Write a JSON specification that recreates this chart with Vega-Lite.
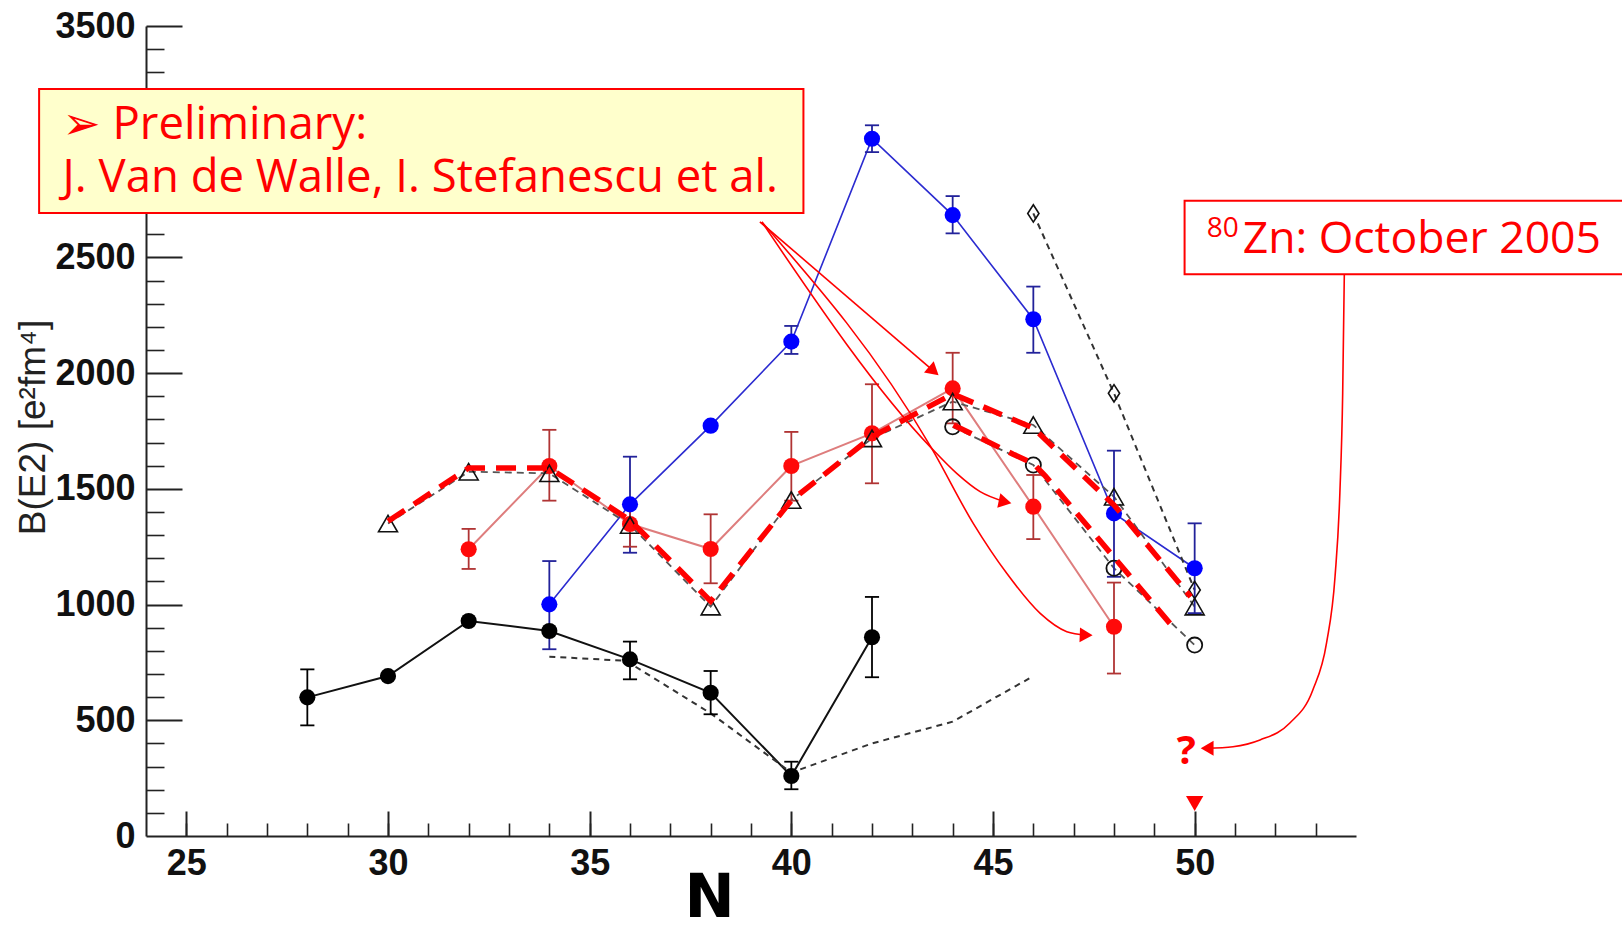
{
  "$schema": "https://vega.github.io/schema/vega-lite/v6.json",
  "width": 1210,
  "height": 810,
  "autosize": {"type": "none"},
  "padding": {"left": 146, "top": 26, "right": 266, "bottom": 94},
  "background": "white",
  "config": {"view": {"stroke": null}, "axis": {"grid": false}},
  "resolve": {"axis": {"x": "independent", "y": "independent"}},
  "datasets": {
    "pts": [
      {"s": "black", "N": 28, "v": 599, "lo": 478, "hi": 720},
      {"s": "black", "N": 30, "v": 691},
      {"s": "black", "N": 32, "v": 929},
      {"s": "black", "N": 34, "v": 886},
      {"s": "black", "N": 36, "v": 763, "lo": 677, "hi": 840},
      {"s": "black", "N": 38, "v": 619, "lo": 526, "hi": 713},
      {"s": "black", "N": 40, "v": 259, "lo": 202, "hi": 321},
      {"s": "black", "N": 42, "v": 859, "lo": 686, "hi": 1033},
      {"s": "blue", "N": 34, "v": 1001, "lo": 807, "hi": 1188},
      {"s": "blue", "N": 36, "v": 1433, "lo": 1224, "hi": 1639},
      {"s": "blue", "N": 38, "v": 1773},
      {"s": "blue", "N": 40, "v": 2136, "lo": 2083, "hi": 2204},
      {"s": "blue", "N": 42, "v": 3013, "lo": 2955, "hi": 3071},
      {"s": "blue", "N": 44, "v": 2683, "lo": 2604, "hi": 2765},
      {"s": "blue", "N": 46, "v": 2233, "lo": 2088, "hi": 2374},
      {"s": "blue", "N": 48, "v": 1394, "lo": 1120, "hi": 1665},
      {"s": "blue", "N": 50, "v": 1157, "lo": 963, "hi": 1351},
      {"s": "red", "N": 32, "v": 1239, "lo": 1154, "hi": 1327},
      {"s": "red", "N": 34, "v": 1599, "lo": 1449, "hi": 1755},
      {"s": "red", "N": 36, "v": 1348, "lo": 1250, "hi": 1446},
      {"s": "red", "N": 38, "v": 1240, "lo": 1092, "hi": 1390},
      {"s": "red", "N": 40, "v": 1599, "lo": 1449, "hi": 1746},
      {"s": "red", "N": 42, "v": 1740, "lo": 1524, "hi": 1952},
      {"s": "red", "N": 44, "v": 1934, "lo": 1783, "hi": 2088},
      {"s": "red", "N": 46, "v": 1423, "lo": 1283, "hi": 1560},
      {"s": "red", "N": 48, "v": 904, "lo": 702, "hi": 1095}
    ],
    "calc": [
      {"s": "tri", "N": 30, "v": 1350},
      {"s": "tri", "N": 32, "v": 1574},
      {"s": "tri", "N": 34, "v": 1567},
      {"s": "tri", "N": 36, "v": 1344},
      {"s": "tri", "N": 38, "v": 991},
      {"s": "tri", "N": 40, "v": 1452},
      {"s": "tri", "N": 42, "v": 1718},
      {"s": "tri", "N": 44, "v": 1877},
      {"s": "tri", "N": 46, "v": 1776},
      {"s": "tri", "N": 48, "v": 1466},
      {"s": "tri", "N": 50, "v": 991},
      {"s": "circ", "N": 44, "v": 1768},
      {"s": "circ", "N": 46, "v": 1603},
      {"s": "circ", "N": 48, "v": 1157},
      {"s": "circ", "N": 50, "v": 825},
      {"s": "dia", "N": 46, "v": 2690},
      {"s": "dia", "N": 48, "v": 1913},
      {"s": "dia", "N": 50, "v": 1063},
      {"s": "low", "N": 34, "v": 775},
      {"s": "low", "N": 35.9, "v": 757},
      {"s": "low", "N": 38, "v": 530},
      {"s": "low", "N": 40, "v": 274},
      {"s": "low", "N": 42, "v": 400},
      {"s": "low", "N": 44, "v": 494},
      {"s": "low", "N": 45.9, "v": 681},
      {"s": "zn", "N": 50, "v": 140}
    ],
    "rdash": [
      {"id": 1, "N": 30, "v": 1360},
      {"id": 1, "N": 32, "v": 1590},
      {"id": 1, "N": 34, "v": 1590},
      {"id": 1, "N": 36, "v": 1365},
      {"id": 1, "N": 38, "v": 1015},
      {"id": 1, "N": 40, "v": 1450},
      {"id": 1, "N": 42, "v": 1725},
      {"id": 1, "N": 44, "v": 1910},
      {"id": 1, "N": 46, "v": 1763},
      {"id": 1, "N": 48, "v": 1430},
      {"id": 1, "N": 49.9, "v": 1034},
      {"id": 2, "N": 44.02, "v": 1776},
      {"id": 2, "N": 45.5, "v": 1650},
      {"id": 2, "N": 46, "v": 1610},
      {"id": 2, "N": 46.3, "v": 1555},
      {"id": 2, "N": 49.55, "v": 885}
    ],
    "arrows": [
      {"id": "a1", "N": 39.22, "v": 2654},
      {"id": "a1", "N": 43.53, "v": 2009},
      {"id": "a2", "N": 39.27, "v": 2653},
      {"id": "a2", "N": 43.48, "v": 1675},
      {"id": "a2", "N": 44.1, "v": 1567},
      {"id": "a2", "N": 44.68, "v": 1488},
      {"id": "a2", "N": 45.3, "v": 1444},
      {"id": "a3", "N": 39.27, "v": 2653},
      {"id": "a3", "N": 43.48, "v": 1675},
      {"id": "a3", "N": 44.51, "v": 1351},
      {"id": "a3", "N": 45.34, "v": 1135},
      {"id": "a3", "N": 46.17, "v": 962},
      {"id": "a3", "N": 46.83, "v": 883},
      {"id": "a3", "N": 47.31, "v": 868},
      {"id": "a4", "N": 50.31, "v": 379},
      {"id": "a4", "N": 50.95, "v": 386},
      {"id": "a4", "N": 51.62, "v": 415},
      {"id": "a4", "N": 52.36, "v": 488},
      {"id": "a4", "N": 52.93, "v": 631},
      {"id": "a4", "N": 53.27, "v": 834},
      {"id": "a4", "N": 53.48, "v": 1120},
      {"id": "a4", "N": 53.6, "v": 1482},
      {"id": "a4", "N": 53.67, "v": 1914},
      {"id": "a4", "N": 53.71, "v": 2424}
    ],
    "heads": [
      {"id": "h1", "N": 43.53, "v": 2009},
      {"id": "h2", "N": 45.3, "v": 1444},
      {"id": "h3", "N": 47.31, "v": 868},
      {"id": "h4", "N": 50.31, "v": 379}
    ],
    "boxes": [
      {"id": "prelim", "x1": 21.35, "x2": 40.3, "y1": 2692, "y2": 3228},
      {"id": "zn", "x1": 49.75, "x2": 61, "y1": 2427, "y2": 2745}
    ],
    "notes": [
      {"id": "l1", "N": 21.93, "v": 3012, "t": "➢ Preliminary:"},
      {"id": "l2", "N": 21.93, "v": 2781, "t": "J. Van de Walle, I. Stefanescu et al."},
      {"id": "sup", "N": 50.3, "v": 2590, "t": "80"},
      {"id": "zn", "N": 51.19, "v": 2518, "t": "Zn: October 2005"},
      {"id": "q", "N": 49.79, "v": 364, "t": "?"}
    ]
  },
  "layer": [
    {
      "data": {"name": "pts"},
      "transform": [{"filter": "datum.s === 'red'"}],
      "mark": {"type": "line", "color": "#d65c5c", "strokeWidth": 2, "opacity": 0.8},
      "encoding": {
        "x": {"field": "N", "type": "quantitative", "scale": {"domain": [24, 54], "nice": false, "zero": false},
          "axis": {"orient": "top", "offset": -810, "values": [25,26,27,28,29,30,31,32,33,34,35,36,37,38,39,40,41,42,43,44,45,46,47,48,49,50,51,52,53], "ticks": true, "tickSize": 13, "tickWidth": 1.6, "tickColor": "#222", "labels": false, "domain": false, "title": null}},
        "y": {"field": "v", "type": "quantitative", "scale": {"domain": [0, 3500], "nice": false, "zero": false},
          "axis": {"orient": "right", "offset": -1210, "values": [100,200,300,400,600,700,800,900,1100,1200,1300,1400,1600,1700,1800,1900,2100,2200,2300,2400,2600,2700,2800,2900,3100,3200,3300,3400], "ticks": true, "tickSize": 18, "tickWidth": 1.6, "tickColor": "#222", "labels": false, "domain": false, "title": null}}
      }
    },
    {
      "data": {"name": "pts"},
      "transform": [{"filter": "datum.s === 'black'"}],
      "mark": {"type": "line", "color": "#111111", "strokeWidth": 2},
      "encoding": {
        "x": {"field": "N", "type": "quantitative", "scale": {"domain": [24, 54], "nice": false, "zero": false},
          "axis": {"orient": "bottom", "values": [25, 30, 35, 40, 45, 50], "format": "d", "ticks": false, "tickSize": 0, "domain": true, "domainColor": "#222", "domainWidth": 2, "labelFont": "Liberation Sans, Arial, sans-serif", "labelFontSize": 36, "labelFontWeight": "bold", "labelColor": "#111", "labelPadding": 10, "labelFlush": false, "labelOverlap": false, "title": "N", "titleFont": "DejaVu Sans", "titleFontSize": 60, "titleFontWeight": "bold", "titleColor": "#000", "titleX": 563, "titleY": 62, "titleAlign": "center", "titleBaseline": "middle", "titleAngle": 0}},
        "y": {"field": "v", "type": "quantitative", "scale": {"domain": [0, 3500], "nice": false, "zero": false},
          "axis": {"orient": "left", "values": [0, 500, 1000, 1500, 2000, 2500, 3500], "format": "d", "ticks": false, "tickSize": 0, "domain": true, "domainColor": "#222", "domainWidth": 2, "labelFont": "Liberation Sans, Arial, sans-serif", "labelFontSize": 36, "labelFontWeight": "bold", "labelColor": "#111", "labelPadding": 11, "labelFlush": false, "labelOverlap": false, "title": "B(E2) [e²fm⁴]", "titleFont": "Liberation Sans, Arial, sans-serif", "titleFontSize": 37, "titleFontWeight": "normal", "titleColor": "#222", "titleAngle": -90, "titleX": -113, "titleY": 401, "titleAlign": "center", "titleBaseline": "middle"}}
      }
    },
    {
      "data": {"name": "pts"},
      "transform": [{"filter": "datum.s === 'blue'"}],
      "mark": {"type": "line", "color": "#2b2bd0", "strokeWidth": 1.6},
      "encoding": {
        "x": {"field": "N", "type": "quantitative", "scale": {"domain": [24, 54], "nice": false, "zero": false},
          "axis": {"orient": "top", "offset": -810, "values": [25, 30, 35, 40, 45, 50], "ticks": true, "tickSize": 25, "tickWidth": 2, "tickColor": "#222", "labels": false, "domain": false, "title": null}},
        "y": {"field": "v", "type": "quantitative", "scale": {"domain": [0, 3500], "nice": false, "zero": false},
          "axis": {"orient": "right", "offset": -1210, "values": [500, 1000, 1500, 2000, 2500, 3000, 3500], "ticks": true, "tickSize": 36, "tickWidth": 2, "tickColor": "#222", "labels": false, "domain": false, "title": null}}
      }
    },
    {
      "data": {"name": "calc"},
      "transform": [{"filter": "datum.s === 'tri' || datum.s === 'circ'"}],
      "mark": {"type": "line", "color": "#555555", "strokeWidth": 1.8, "strokeDash": [7, 5]},
      "encoding": {
        "detail": {"field": "s"},
        "x": {"field": "N", "type": "quantitative", "scale": {"domain": [24, 54], "nice": false, "zero": false}, "axis": null},
        "y": {"field": "v", "type": "quantitative", "scale": {"domain": [0, 3500], "nice": false, "zero": false}, "axis": null}
      }
    },
    {
      "data": {"name": "calc"},
      "transform": [{"filter": "datum.s === 'dia' || datum.s === 'low'"}],
      "mark": {"type": "line", "color": "#333333", "strokeWidth": 2, "strokeDash": [6, 5]},
      "encoding": {
        "detail": {"field": "s"},
        "x": {"field": "N", "type": "quantitative", "scale": {"domain": [24, 54], "nice": false, "zero": false}, "axis": null},
        "y": {"field": "v", "type": "quantitative", "scale": {"domain": [0, 3500], "nice": false, "zero": false}, "axis": null}
      }
    },
    {
      "data": {"name": "pts"},
      "transform": [{"filter": "datum.lo != null"}],
      "mark": {"type": "rule", "strokeWidth": 1.8},
      "encoding": {
        "x": {"field": "N", "type": "quantitative", "scale": {"domain": [24, 54], "nice": false, "zero": false}, "axis": null},
        "y": {"field": "lo", "type": "quantitative", "scale": {"domain": [0, 3500], "nice": false, "zero": false}, "axis": null},
        "y2": {"field": "hi"},
        "stroke": {"field": "s", "type": "nominal", "scale": {"domain": ["black", "blue", "red"], "range": ["#000000", "#22229a", "#b03434"]}, "legend": null}
      }
    },
    {
      "data": {"name": "pts"},
      "transform": [{"filter": "datum.lo != null"}],
      "mark": {"type": "point", "shape": "stroke", "size": 200, "strokeWidth": 1.8, "filled": false, "opacity": 1},
      "encoding": {
        "x": {"field": "N", "type": "quantitative", "scale": {"domain": [24, 54], "nice": false, "zero": false}, "axis": null},
        "y": {"field": "lo", "type": "quantitative", "scale": {"domain": [0, 3500], "nice": false, "zero": false}, "axis": null},
        "stroke": {"field": "s", "type": "nominal", "scale": {"domain": ["black", "blue", "red"], "range": ["#000000", "#22229a", "#b03434"]}, "legend": null}
      }
    },
    {
      "data": {"name": "pts"},
      "transform": [{"filter": "datum.hi != null"}],
      "mark": {"type": "point", "shape": "stroke", "size": 200, "strokeWidth": 1.8, "filled": false, "opacity": 1},
      "encoding": {
        "x": {"field": "N", "type": "quantitative", "scale": {"domain": [24, 54], "nice": false, "zero": false}, "axis": null},
        "y": {"field": "hi", "type": "quantitative", "scale": {"domain": [0, 3500], "nice": false, "zero": false}, "axis": null},
        "stroke": {"field": "s", "type": "nominal", "scale": {"domain": ["black", "blue", "red"], "range": ["#000000", "#22229a", "#b03434"]}, "legend": null}
      }
    },
    {
      "data": {"name": "pts"},
      "mark": {"type": "point", "shape": "circle", "filled": true, "size": 260, "opacity": 1},
      "encoding": {
        "x": {"field": "N", "type": "quantitative", "scale": {"domain": [24, 54], "nice": false, "zero": false}, "axis": null},
        "y": {"field": "v", "type": "quantitative", "scale": {"domain": [0, 3500], "nice": false, "zero": false}, "axis": null},
        "fill": {"field": "s", "type": "nominal", "scale": {"domain": ["black", "blue", "red"], "range": ["#000000", "#0000ff", "#ff0a0a"]}, "legend": null}
      }
    },
    {
      "data": {"name": "calc"},
      "transform": [{"filter": "datum.s === 'tri'"}],
      "mark": {"type": "point", "shape": "triangle-up", "filled": false, "size": 360, "stroke": "#111111", "strokeWidth": 1.6, "opacity": 1},
      "encoding": {
        "x": {"field": "N", "type": "quantitative", "scale": {"domain": [24, 54], "nice": false, "zero": false}, "axis": null},
        "y": {"field": "v", "type": "quantitative", "scale": {"domain": [0, 3500], "nice": false, "zero": false}, "axis": null}
      }
    },
    {
      "data": {"name": "calc"},
      "transform": [{"filter": "datum.s === 'circ'"}],
      "mark": {"type": "point", "shape": "circle", "filled": false, "size": 230, "stroke": "#111111", "strokeWidth": 1.8, "opacity": 1},
      "encoding": {
        "x": {"field": "N", "type": "quantitative", "scale": {"domain": [24, 54], "nice": false, "zero": false}, "axis": null},
        "y": {"field": "v", "type": "quantitative", "scale": {"domain": [0, 3500], "nice": false, "zero": false}, "axis": null}
      }
    },
    {
      "data": {"name": "calc"},
      "transform": [{"filter": "datum.s === 'dia'"}],
      "mark": {"type": "point", "shape": "M0,-1L0.65,0L0,1L-0.65,0Z", "filled": false, "size": 300, "stroke": "#111111", "strokeWidth": 1.6, "opacity": 1},
      "encoding": {
        "x": {"field": "N", "type": "quantitative", "scale": {"domain": [24, 54], "nice": false, "zero": false}, "axis": null},
        "y": {"field": "v", "type": "quantitative", "scale": {"domain": [0, 3500], "nice": false, "zero": false}, "axis": null}
      }
    },
    {
      "data": {"name": "calc"},
      "transform": [{"filter": "datum.s === 'zn'"}],
      "mark": {"type": "point", "shape": "triangle-down", "filled": true, "size": 300, "color": "#ff0000", "opacity": 1},
      "encoding": {
        "x": {"field": "N", "type": "quantitative", "scale": {"domain": [24, 54], "nice": false, "zero": false}, "axis": null},
        "y": {"field": "v", "type": "quantitative", "scale": {"domain": [0, 3500], "nice": false, "zero": false}, "axis": null}
      }
    },
    {
      "data": {"name": "rdash"},
      "mark": {"type": "line", "color": "#ff0000", "strokeWidth": 5.5, "strokeDash": [20, 11]},
      "encoding": {
        "detail": {"field": "id"},
        "x": {"field": "N", "type": "quantitative", "scale": {"domain": [24, 54], "nice": false, "zero": false}, "axis": null},
        "y": {"field": "v", "type": "quantitative", "scale": {"domain": [0, 3500], "nice": false, "zero": false}, "axis": null}
      }
    },
    {
      "data": {"name": "arrows"},
      "mark": {"type": "line", "color": "#ff0000", "strokeWidth": 1.6, "interpolate": "monotone"},
      "encoding": {
        "detail": {"field": "id"},
        "x": {"field": "N", "type": "quantitative", "scale": {"domain": [24, 54], "nice": false, "zero": false}, "axis": null},
        "y": {"field": "v", "type": "quantitative", "scale": {"domain": [0, 3500], "nice": false, "zero": false}, "axis": null}
      }
    },
    {
      "data": {"name": "heads"},
      "transform": [{"filter": "datum.id === 'h1'"}],
      "mark": {"type": "point", "shape": "triangle-right", "filled": true, "size": 220, "color": "#ff0000", "angle": 41, "opacity": 1},
      "encoding": {
        "x": {"field": "N", "type": "quantitative", "scale": {"domain": [24, 54], "nice": false, "zero": false}, "axis": null},
        "y": {"field": "v", "type": "quantitative", "scale": {"domain": [0, 3500], "nice": false, "zero": false}, "axis": null}
      }
    },
    {
      "data": {"name": "heads"},
      "transform": [{"filter": "datum.id === 'h2'"}],
      "mark": {"type": "point", "shape": "triangle-right", "filled": true, "size": 220, "color": "#ff0000", "angle": 12, "opacity": 1},
      "encoding": {
        "x": {"field": "N", "type": "quantitative", "scale": {"domain": [24, 54], "nice": false, "zero": false}, "axis": null},
        "y": {"field": "v", "type": "quantitative", "scale": {"domain": [0, 3500], "nice": false, "zero": false}, "axis": null}
      }
    },
    {
      "data": {"name": "heads"},
      "transform": [{"filter": "datum.id === 'h3'"}],
      "mark": {"type": "point", "shape": "triangle-right", "filled": true, "size": 220, "color": "#ff0000", "angle": 2, "opacity": 1},
      "encoding": {
        "x": {"field": "N", "type": "quantitative", "scale": {"domain": [24, 54], "nice": false, "zero": false}, "axis": null},
        "y": {"field": "v", "type": "quantitative", "scale": {"domain": [0, 3500], "nice": false, "zero": false}, "axis": null}
      }
    },
    {
      "data": {"name": "heads"},
      "transform": [{"filter": "datum.id === 'h4'"}],
      "mark": {"type": "point", "shape": "triangle-left", "filled": true, "size": 220, "color": "#ff0000", "opacity": 1},
      "encoding": {
        "x": {"field": "N", "type": "quantitative", "scale": {"domain": [24, 54], "nice": false, "zero": false}, "axis": null},
        "y": {"field": "v", "type": "quantitative", "scale": {"domain": [0, 3500], "nice": false, "zero": false}, "axis": null}
      }
    },
    {
      "data": {"name": "boxes"},
      "transform": [{"filter": "datum.id === 'prelim'"}],
      "mark": {"type": "rect", "fill": "#ffffcc", "stroke": "#ff0000", "strokeWidth": 2},
      "encoding": {
        "x": {"field": "x1", "type": "quantitative", "scale": {"domain": [24, 54], "nice": false, "zero": false}, "axis": null},
        "x2": {"field": "x2"},
        "y": {"field": "y1", "type": "quantitative", "scale": {"domain": [0, 3500], "nice": false, "zero": false}, "axis": null},
        "y2": {"field": "y2"}
      }
    },
    {
      "data": {"name": "boxes"},
      "transform": [{"filter": "datum.id === 'zn'"}],
      "mark": {"type": "rect", "fill": "#ffffff", "stroke": "#ff0000", "strokeWidth": 2},
      "encoding": {
        "x": {"field": "x1", "type": "quantitative", "scale": {"domain": [24, 54], "nice": false, "zero": false}, "axis": null},
        "x2": {"field": "x2"},
        "y": {"field": "y1", "type": "quantitative", "scale": {"domain": [0, 3500], "nice": false, "zero": false}, "axis": null},
        "y2": {"field": "y2"}
      }
    },
    {
      "data": {"name": "notes"},
      "transform": [{"filter": "datum.id === 'l1' || datum.id === 'l2'"}],
      "mark": {"type": "text", "align": "left", "baseline": "alphabetic", "font": "Open Sans, DejaVu Sans", "fontSize": 45.5, "color": "#ff0000"},
      "encoding": {
        "text": {"field": "t"},
        "x": {"field": "N", "type": "quantitative", "scale": {"domain": [24, 54], "nice": false, "zero": false}, "axis": null},
        "y": {"field": "v", "type": "quantitative", "scale": {"domain": [0, 3500], "nice": false, "zero": false}, "axis": null}
      }
    },
    {
      "data": {"name": "notes"},
      "transform": [{"filter": "datum.id === 'sup'"}],
      "mark": {"type": "text", "align": "left", "baseline": "alphabetic", "font": "Open Sans", "fontSize": 28, "color": "#ff0000"},
      "encoding": {
        "text": {"field": "t"},
        "x": {"field": "N", "type": "quantitative", "scale": {"domain": [24, 54], "nice": false, "zero": false}, "axis": null},
        "y": {"field": "v", "type": "quantitative", "scale": {"domain": [0, 3500], "nice": false, "zero": false}, "axis": null}
      }
    },
    {
      "data": {"name": "notes"},
      "transform": [{"filter": "datum.id === 'zn'"}],
      "mark": {"type": "text", "align": "left", "baseline": "alphabetic", "font": "Open Sans", "fontSize": 44.5, "color": "#ff0000"},
      "encoding": {
        "text": {"field": "t"},
        "x": {"field": "N", "type": "quantitative", "scale": {"domain": [24, 54], "nice": false, "zero": false}, "axis": null},
        "y": {"field": "v", "type": "quantitative", "scale": {"domain": [0, 3500], "nice": false, "zero": false}, "axis": null}
      }
    },
    {
      "data": {"name": "notes"},
      "transform": [{"filter": "datum.id === 'q'"}],
      "mark": {"type": "text", "align": "center", "baseline": "middle", "font": "Open Sans", "fontWeight": "bold", "fontSize": 40, "color": "#ff0000"},
      "encoding": {
        "text": {"field": "t"},
        "x": {"field": "N", "type": "quantitative", "scale": {"domain": [24, 54], "nice": false, "zero": false}, "axis": null},
        "y": {"field": "v", "type": "quantitative", "scale": {"domain": [0, 3500], "nice": false, "zero": false}, "axis": null}
      }
    }
  ]
}
